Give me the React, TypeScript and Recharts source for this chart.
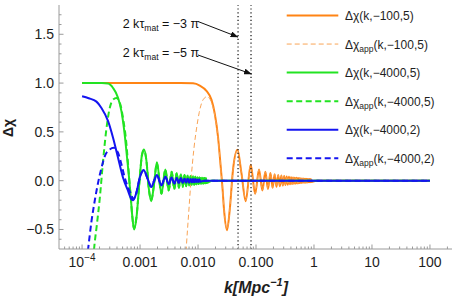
import React from "react";
import { LineChart, Line, XAxis, YAxis, ReferenceLine, Legend } from "recharts";

type Pt = [number, number];

// axis ticks and labels
const xDomain: [number, number] = [4e-5, 240];
const yDomain: [number, number] = [-0.7, 1.8];
const xMajorTicks = [1e-4, 0.001, 0.01, 0.1, 1, 10, 100];
const xMajorLabels = ["10", "0.001", "0.010", "0.100", "1", "10", "100"];
const yMajorTicks = [-0.5, 0, 0.5, 1, 1.5];
const yMajorLabels = ["\u22120.5", "0.0", "0.5", "1.0", "1.5"];
const markerK = [0.049, 0.082];

// Δχ(k,-100,5)
const orangeHead: Pt[] = [
  [1e-4, 1], [0.001, 1], [0.005, 1], [0.0082, 0.997], [0.0107, 0.975],
  [0.01396, 0.92], [0.01703, 0.83], [0.0194, 0.69], [0.0221, 0.45],
  [0.0243, 0.18], [0.0263, -0.06], [0.0281, -0.3], [0.0316, -0.507],
  [0.0352, -0.3], [0.0401, 0.11], [0.0478, 0.316], [0.056, 0.08],
  [0.0664, -0.21], [0.081, 0.163],
];
// Δχ_app(k,-100,5)
const orangeAppHead: Pt[] = [
  [0.0055, -1.3], [0.0063, -0.67], [0.0069, -0.33], [0.0076, 0.02],
  [0.0085, 0.33], [0.0094, 0.53], [0.0105, 0.7], [0.01145, 0.79],
  [0.0128, 0.845], [0.0142, 0.86], [0.0159, 0.84], [0.0178, 0.77],
  [0.0194, 0.67], [0.0221, 0.44], [0.0243, 0.17], [0.0263, -0.07],
  [0.0281, -0.3], [0.0316, -0.5], [0.0352, -0.3], [0.0401, 0.11],
  [0.0478, 0.31], [0.056, 0.08], [0.0664, -0.2], [0.081, 0.16],
];
const orangeTail: Pt[] = [
  [0.0966, -0.135], [0.1127, 0.115], [0.1288, -0.1], [0.1449, 0.092],
  [0.161, -0.085], [0.1771, 0.078], [0.1932, -0.072], [0.2093, 0.067],
  [0.2254, -0.063], [0.2415, 0.059], [0.2576, -0.056], [0.2737, 0.053],
  [0.2898, -0.05], [0.3059, 0.047], [0.322, -0.045], [0.3381, 0.043],
  [0.3542, -0.041], [0.3703, 0.039], [0.3864, -0.037], [0.4025, 0.036],
  [0.4186, -0.035], [0.4347, 0.033], [0.4508, -0.032], [0.4669, 0.031],
  [0.483, -0.03], [0.4991, 0.029], [0.5152, -0.028], [0.5313, 0.027],
  [0.5474, -0.026], [0.5635, 0.026], [0.5796, -0.025], [0.5957, 0.024],
  [0.6118, -0.024], [0.6279, 0.023], [0.644, -0.022], [0.6601, 0.022],
  [0.6762, -0.021], [0.6923, 0.021], [0.7084, -0.02], [0.7245, 0.02],
  [0.7406, -0.019], [0.7567, 0.019], [0.7728, -0.018], [0.7889, 0.018],
  [0.805, -0.017], [0.8211, 0.017], [0.8372, -0.016], [0.8533, 0.016],
  [0.8694, -0.015], [0.8855, 0.015], [0.9016, -0.014], [1.1, 0], [100, 0],
];

// Δχ(k,-4000,5)
const greenHead: Pt[] = [
  [1e-4, 1], [2.2e-4, 1], [2.81e-4, 0.995], [3.42e-4, 0.95], [4.17e-4, 0.85],
  [4.78e-4, 0.71], [5.44e-4, 0.47], [5.97e-4, 0.235], [6.46e-4, 0.03],
  [6.91e-4, -0.17], [7.39e-4, -0.38], [7.88e-4, -0.5], [8.67e-4, -0.38],
  [9.88e-4, 0.03], [1.08e-3, 0.27], [1.17e-3, 0.32], [1.29e-3, 0.2],
  [1.41e-3, -0.07], [1.56e-3, -0.21], [1.74e-3, -0.04], [1.95e-3, 0.19],
];
// Δχ_app(k,-4000,5)
const greenAppHead: Pt[] = [
  [1.47e-4, -1.0], [1.61e-4, -0.7], [1.8e-4, -0.45], [2.02e-4, -0.18],
  [2.3e-4, 0.2], [2.64e-4, 0.54], [3.0e-4, 0.745], [3.42e-4, 0.83],
  [3.92e-4, 0.847], [4.47e-4, 0.8], [5.09e-4, 0.64], [5.83e-4, 0.37],
  [6.21e-4, 0.17], [6.6e-4, -0.03], [6.91e-4, -0.17], [7.39e-4, -0.38],
  [7.88e-4, -0.49], [8.67e-4, -0.37], [9.88e-4, 0.03], [1.08e-3, 0.26],
  [1.17e-3, 0.31], [1.29e-3, 0.2], [1.41e-3, -0.07], [1.56e-3, -0.2],
  [1.74e-3, -0.04], [1.95e-3, 0.18],
];
const greenTail: Pt[] = [
  [0.00234, -0.135], [0.00273, 0.115], [0.00312, -0.1], [0.00351, 0.092],
  [0.0039, -0.085], [0.00429, 0.078], [0.00468, -0.072], [0.00507, 0.067],
  [0.00546, -0.063], [0.00585, 0.059], [0.00624, -0.056], [0.00663, 0.053],
  [0.00702, -0.05], [0.00741, 0.047], [0.0078, -0.045], [0.00819, 0.043],
  [0.00858, -0.041], [0.00897, 0.039], [0.00936, -0.037], [0.00975, 0.036],
  [0.01014, -0.035], [0.01053, 0.033], [0.01092, -0.032], [0.01131, 0.031],
  [0.0117, -0.03], [0.01209, 0.029], [0.01248, -0.028], [0.01287, 0.027],
  [0.01326, -0.026], [0.01365, 0.026], [0.01404, -0.025], [0.017, 0], [100, 0],
];

// Δχ(k,-4000,2)
const blueHead: Pt[] = [
  [1e-4, 0.865], [1.3e-4, 0.845], [1.77e-4, 0.81], [2.16e-4, 0.745],
  [2.81e-4, 0.61], [3.42e-4, 0.44], [4.17e-4, 0.235], [5.09e-4, 0.03],
  [6.21e-4, -0.105], [7.11e-4, -0.19], [7.6e-4, -0.2], [8.67e-4, -0.12],
  [9.88e-4, 0.03], [1.15e-3, 0.11], [1.35e-3, 0.02], [1.56e-3, -0.065],
  [1.75e-3, 0.0], [1.95e-3, 0.058],
];
// Δχ_app(k,-4000,2)
const blueAppHead: Pt[] = [
  [1e-4, -1.2], [1.27e-4, -0.7], [1.45e-4, -0.42], [1.66e-4, -0.2],
  [1.89e-4, -0.02], [2.16e-4, 0.13], [2.46e-4, 0.25], [3.0e-4, 0.32],
  [3.52e-4, 0.337], [4.17e-4, 0.286], [4.78e-4, 0.166], [5.44e-4, 0.03],
  [6.21e-4, -0.07], [7.11e-4, -0.15], [7.6e-4, -0.19], [8.67e-4, -0.12],
  [9.88e-4, 0.03], [1.15e-3, 0.105], [1.35e-3, 0.02], [1.56e-3, -0.06],
  [1.75e-3, 0.0], [1.95e-3, 0.055],
];
const blueTail: Pt[] = [
  [0.00234, -0.047], [0.00273, 0.041], [0.00312, -0.036], [0.00351, 0.033],
  [0.0039, -0.03], [0.00429, 0.028], [0.00468, -0.026], [0.00507, 0.024],
  [0.00546, -0.023], [0.00585, 0.021], [0.00624, -0.02], [0.00663, 0.019],
  [0.00702, -0.018], [0.00741, 0.017], [0.0078, -0.016], [0.00819, 0.016],
  [0.00858, -0.015], [0.00897, 0.014], [0.00936, -0.014], [0.00975, 0.013],
  [0.01014, -0.012], [0.01053, 0.011], [0.01092, -0.01], [0.013, 0], [100, 0],
];

const rows = (pts: Pt[]) => pts.map(([k, v]) => ({ k, v }));

const FRAME = "#9a9a9a";
const INK = "#1e1e1e";
const ORANGE = "#ff8414";
const ORANGE_LIGHT = "#f9a456";
const GREEN = "#22e322";
const BLUE = "#1414f0";

const series = [
  { name: "Δχ(k,−100,5)", sub: "", args: "(k,\u2212100,5)", data: rows([...orangeHead, ...orangeTail]), color: ORANGE, width: 2, dash: undefined },
  { name: "Δχapp(k,−100,5)", sub: "app", args: "(k,\u2212100,5)", data: rows([...orangeAppHead, ...orangeTail]), color: ORANGE_LIGHT, width: 1, dash: "5 3" },
  { name: "Δχ(k,−4000,5)", sub: "", args: "(k,\u22124000,5)", data: rows([...greenHead, ...greenTail]), color: GREEN, width: 2, dash: undefined },
  { name: "Δχapp(k,−4000,5)", sub: "app", args: "(k,\u22124000,5)", data: rows([...greenAppHead, ...greenTail]), color: GREEN, width: 2, dash: "6 3.5" },
  { name: "Δχ(k,−4000,2)", sub: "", args: "(k,\u22124000,2)", data: rows([...blueHead, ...blueTail]), color: BLUE, width: 2, dash: undefined },
  { name: "Δχapp(k,−4000,2)", sub: "app", args: "(k,\u22124000,2)", data: rows([...blueAppHead, ...blueTail]), color: BLUE, width: 2, dash: "6 3.5" },
];

const decades = [1e-5, 1e-4, 1e-3, 1e-2, 1e-1, 1, 10, 100];
const xMinor = decades
  .flatMap((d) => [2, 3, 4, 5, 6, 7, 8, 9].map((m) => m * d))
  .filter((t) => t > xDomain[0] * 1.01 && t < xDomain[1]);
const xTicks = [...xMajorTicks, ...xMinor].sort((a, b) => a - b);
const yTicks = Array.from({ length: 24 }, (_, i) => Math.round((-0.6 + i * 0.1) * 10) / 10);

const xMajorIndex = (v: number) => xMajorTicks.findIndex((t) => Math.abs(t - v) / t < 1e-6);
const yMajorIndex = (v: number) => yMajorTicks.findIndex((t) => Math.abs(t - v) < 1e-6);

function BottomTick(props: any) {
  const { x, y, payload } = props;
  const idx = xMajorIndex(payload.value);
  const major = idx >= 0;
  return (
    <g>
      <line x1={x} x2={x} y1={y} y2={y - (major ? 4.5 : 2.5)} stroke={FRAME} />
      {major && (
        <text x={x} y={y + 18} textAnchor="middle" fontSize={14} fill={INK}>
          {xMajorLabels[idx]}
          {idx === 0 && (
            <tspan dy={-6} fontSize={10}>
              {"\u22124"}
            </tspan>
          )}
        </text>
      )}
    </g>
  );
}

function TopTick(props: any) {
  const { x, y, payload } = props;
  const major = xMajorIndex(payload.value) >= 0;
  return <line x1={x} x2={x} y1={y} y2={y + (major ? 4.5 : 2.5)} stroke={FRAME} />;
}

function LeftTick(props: any) {
  const { x, y, payload } = props;
  const idx = yMajorIndex(payload.value);
  const major = idx >= 0;
  return (
    <g>
      <line x1={x} x2={x + (major ? 4.5 : 2.5)} y1={y} y2={y} stroke={FRAME} />
      {major && (
        <text x={x - 5} y={y + 5} textAnchor="end" fontSize={14} fill={INK}>
          {yMajorLabels[idx]}
        </text>
      )}
    </g>
  );
}

function RightTick(props: any) {
  const { x, y, payload } = props;
  const major = yMajorIndex(payload.value) >= 0;
  return <line x1={x} x2={x - (major ? 4.5 : 2.5)} y1={y} y2={y} stroke={FRAME} />;
}

function LegendBox() {
  return (
    <svg width={177} height={175}>
      {series.map((s, i) => {
        const cy = 15.5 + i * 28.55;
        return (
          <g key={i}>
            <line x1={6.7} x2={58.3} y1={cy} y2={cy} stroke={s.color} strokeWidth={s.width} strokeDasharray={s.dash} />
            <text x={65} y={cy + 4.5} fontSize={12} fill={INK}>
              {"\u0394\u03c7"}
              {s.sub ? (
                <>
                  <tspan dy={3} fontSize={8.5}>{s.sub}</tspan>
                  <tspan dy={-3}>{s.args}</tspan>
                </>
              ) : (
                <tspan>{s.args}</tspan>
              )}
            </text>
          </g>
        );
      })}
    </svg>
  );
}

function Annotations() {
  return (
    <svg width={457} height={303} style={{ position: "absolute", left: 0, top: 0, pointerEvents: "none" }}>
      <defs>
        <marker id="ah" markerWidth={8} markerHeight={6} refX={7.5} refY={3} orient="auto" markerUnits="userSpaceOnUse">
          <path d="M0,0 L8,3 L0,6 z" fill="#111" />
        </marker>
      </defs>
      <text x={122.7} y={28} fontSize={12.5} fill="#111">
        2 k{"\u03c4"}
        <tspan dy={3} fontSize={8.5}>mat</tspan>
        <tspan dy={-3}>{" = \u22123 \u03c0"}</tspan>
      </text>
      <line x1={198} y1={21.5} x2={238} y2={37} stroke="#111" strokeWidth={1} markerEnd="url(#ah)" />
      <text x={122.7} y={57} fontSize={12.5} fill="#111">
        2 k{"\u03c4"}
        <tspan dy={3} fontSize={8.5}>mat</tspan>
        <tspan dy={-3}>{" = \u22125 \u03c0"}</tspan>
      </text>
      <line x1={198} y1={55} x2={251.5} y2={74} stroke="#111" strokeWidth={1} markerEnd="url(#ah)" />
      <text transform="translate(13,128) rotate(-90)" textAnchor="middle" fontSize={14} fontWeight="bold" fill={INK}>
        {"\u0394\u03c7"}
      </text>
      <text x={256} y={293} textAnchor="middle" fontSize={16} fontWeight="bold" fontStyle="italic" fill={INK}>
        k[Mpc
        <tspan dy={-7} fontSize={11}>{"\u22121"}</tspan>
        <tspan dy={7}>]</tspan>
      </text>
    </svg>
  );
}

export default function App() {
  return (
    <div
      style={{
        position: "absolute",
        left: 0,
        top: 0,
        width: 457,
        height: 303,
        background: "#fff",
        fontFamily: "'Liberation Sans', Arial, sans-serif",
      }}
    >
      <LineChart width={457} height={303} margin={{ top: 5, right: 5, bottom: 0, left: 0 }}>
        <XAxis
          xAxisId="b"
          dataKey="k"
          type="number"
          scale="log"
          domain={xDomain}
          allowDataOverflow
          ticks={xTicks}
          interval={0}
          tick={<BottomTick />}
          tickLine={false}
          tickSize={0}
          tickMargin={0}
          axisLine={{ stroke: FRAME }}
          height={54}
        />
        <XAxis
          xAxisId="t"
          orientation="top"
          dataKey="k"
          type="number"
          scale="log"
          domain={xDomain}
          allowDataOverflow
          ticks={xTicks}
          interval={0}
          tick={<TopTick />}
          tickLine={false}
          tickSize={0}
          tickMargin={0}
          axisLine={{ stroke: FRAME }}
          height={0}
        />
        <YAxis
          yAxisId="l"
          type="number"
          domain={yDomain}
          allowDataOverflow
          ticks={yTicks}
          interval={0}
          tick={<LeftTick />}
          tickLine={false}
          tickSize={0}
          tickMargin={0}
          axisLine={{ stroke: FRAME }}
          width={59}
        />
        <YAxis
          yAxisId="r"
          orientation="right"
          type="number"
          domain={yDomain}
          allowDataOverflow
          ticks={yTicks}
          interval={0}
          tick={<RightTick />}
          tickLine={false}
          tickSize={0}
          tickMargin={0}
          axisLine={{ stroke: FRAME }}
          width={0}
        />
        {series.map((s, i) => (
          <Line
            key={i}
            xAxisId="b"
            yAxisId="l"
            data={s.data}
            dataKey="v"
            name={s.name}
            type="monotone"
            stroke={s.color}
            strokeWidth={s.width}
            strokeDasharray={s.dash}
            dot={false}
            activeDot={false}
            isAnimationActive={false}
          />
        ))}
        {markerK.map((k) => (
          <ReferenceLine key={k} xAxisId="b" yAxisId="l" x={k} stroke="#222" strokeWidth={1.3} strokeDasharray="1.2 2.6" />
        ))}
        <Legend
          layout="vertical"
          align="center"
          verticalAlign="middle"
          wrapperStyle={{ left: 280, top: 0, width: 177 }}
          content={() => <LegendBox />}
        />
      </LineChart>
      <Annotations />
    </div>
  );
}
